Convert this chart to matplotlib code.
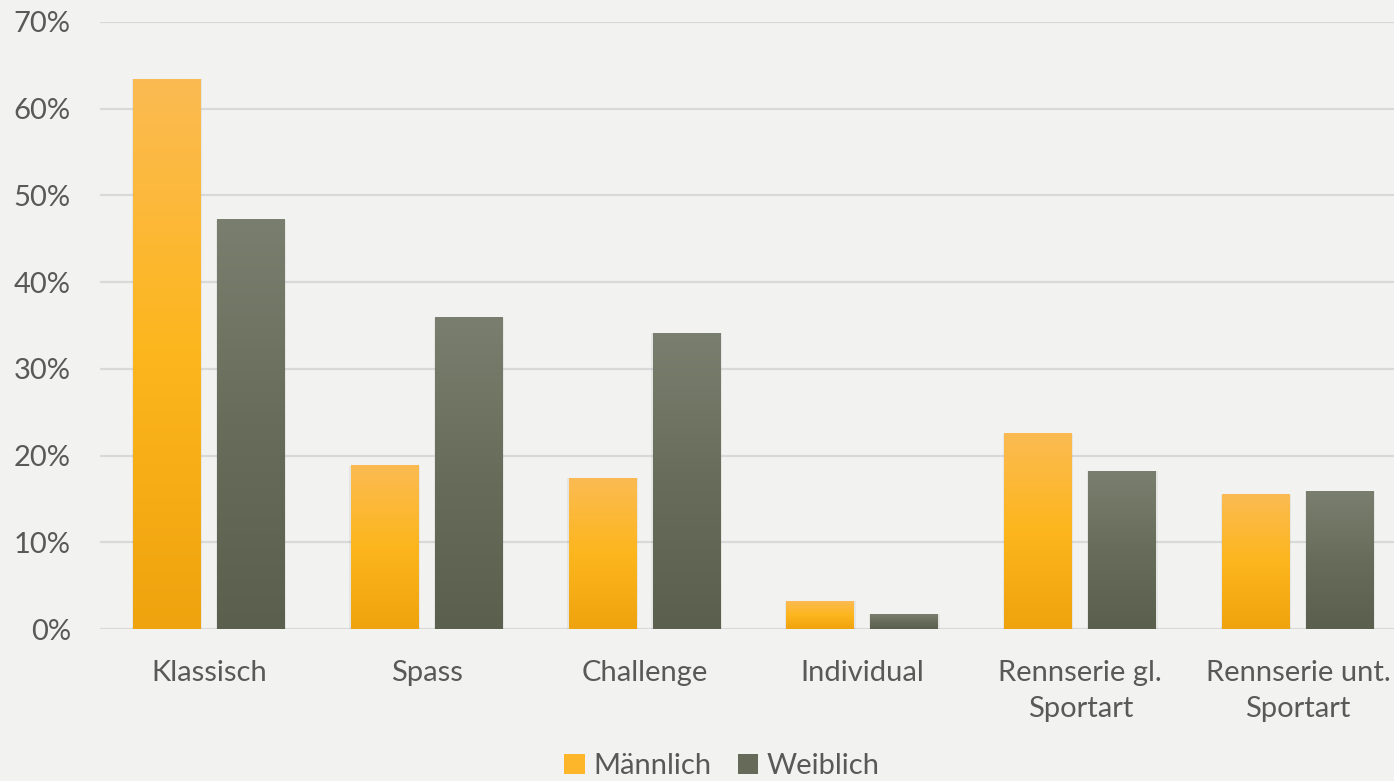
import numpy as np
import matplotlib.pyplot as plt
from matplotlib.colors import LinearSegmentedColormap
from matplotlib.patches import Patch

categories = ['Klassisch', 'Spass', 'Challenge', 'Individual',
              'Rennserie gl.\nSportart', 'Rennserie unt.\nSportart']
maennlich = [63.4, 18.8, 17.4, 3.2, 22.5, 15.5]
weiblich = [47.2, 35.9, 34.1, 1.7, 18.2, 15.9]
yticks = [0, 10, 20, 30, 40, 50, 60, 70]

plt.rcParams['font.family'] = ['Lato', 'DejaVu Sans']
bg = '#F2F2F0'
txt = '#595959'

orange_cm = LinearSegmentedColormap.from_list('o', ['#EFA30E', '#FDB61D', '#FBBB52'])
grey_cm = LinearSegmentedColormap.from_list('g', ['#5A604D', '#686D5B', '#7A7E6E'])

fig = plt.figure(figsize=(13.94, 7.81), dpi=100, facecolor=bg)
# plot area runs a little past the right edge, like the original
ax = fig.add_axes([100 / 1394, 152 / 781, 1307 / 1394, 607 / 781])
ax.set_facecolor(bg)

x = np.arange(len(categories))
w = 0.312
off = 0.193
grad = np.linspace(0, 1, 256).reshape(-1, 1)

for vals, cm, sign in [(maennlich, orange_cm, -1), (weiblich, grey_cm, 1)]:
    for xi, v in zip(x, vals):
        x0 = xi + sign * off - w / 2
        ax.imshow(grad, cmap=cm, origin='lower', aspect='auto',
                  extent=[x0, x0 + w, 0, v], zorder=3)
        # soft shadow
        ax.bar(xi + sign * off, v, width=w + 0.012, color='#000000',
               alpha=0.05, zorder=2)

ax.set_xlim(-0.5, len(categories) - 0.5)
ax.set_ylim(0, 70)
ax.set_yticks(yticks)
ax.set_yticklabels([f'{t}%' for t in yticks])
ax.set_xticks(x)
ax.set_xticklabels(categories, linespacing=1.5)
ax.tick_params(length=0, labelsize=21, colors=txt)
ax.tick_params(axis='x', pad=22)
ax.tick_params(axis='y', pad=21)
ax.grid(axis='y', color='#D9D9D9', linewidth=1.6, zorder=0)
for s in ax.spines.values():
    s.set_visible(False)

handles = [Patch(facecolor='#FDB52A', label='Männlich'),
           Patch(facecolor='#666B59', label='Weiblich')]
fig.legend(handles=handles, loc='center', bbox_to_anchor=(722 / 1394, 1 - 766 / 781),
           ncol=2, frameon=False, fontsize=21, labelcolor=txt,
           handlelength=0.7, handleheight=0.7, handletextpad=0.3, columnspacing=0.9)

fig.savefig('out.png', dpi=100, facecolor=bg)
